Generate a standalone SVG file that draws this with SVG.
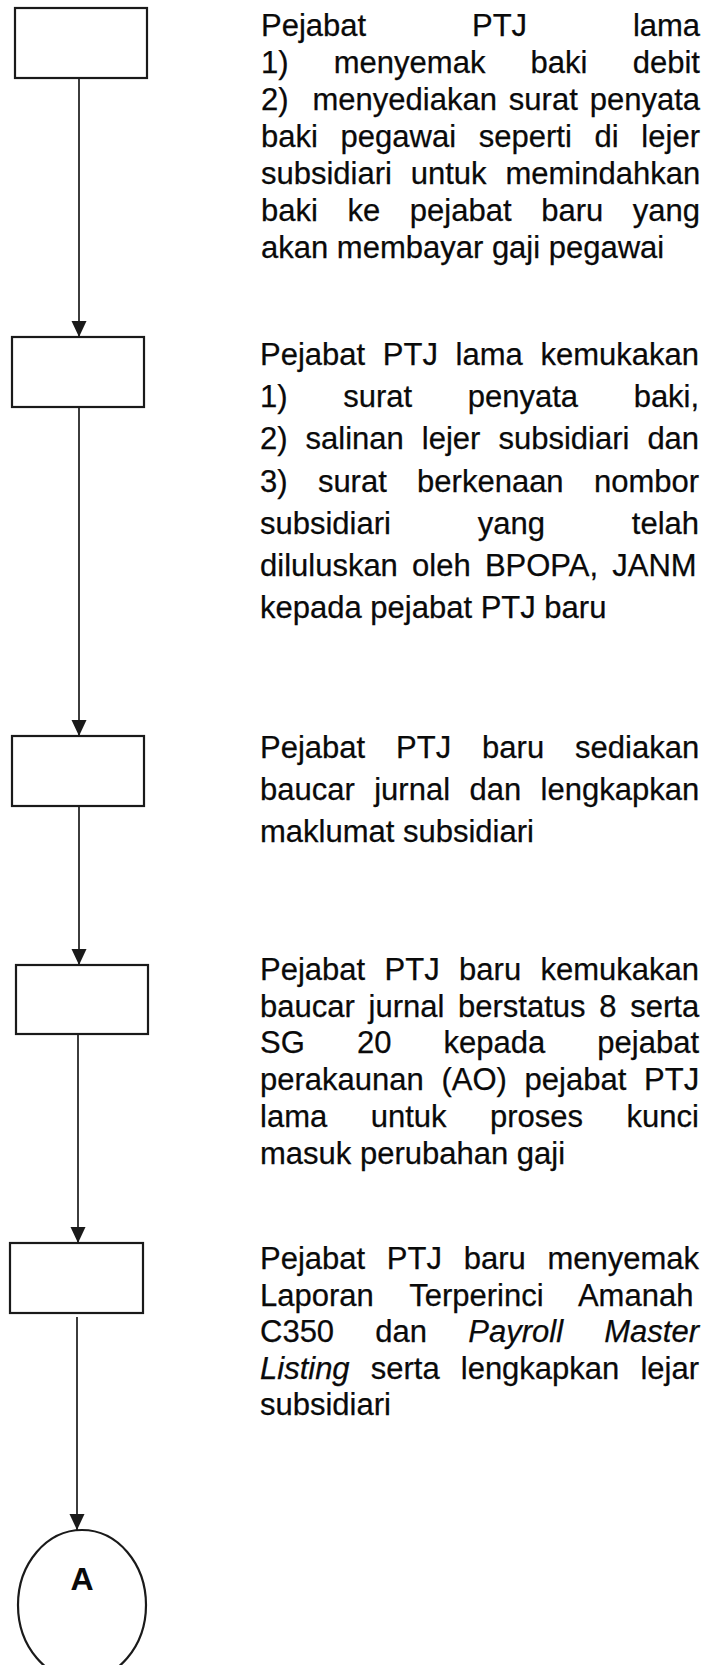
<svg xmlns="http://www.w3.org/2000/svg" width="712" height="1665" viewBox="0 0 712 1665">
<style>
.box{fill:#fff;stroke:#1a1a1a;stroke-width:2.2}
.conn{stroke:#1a1a1a;stroke-width:1.7;fill:none}
.t{font-family:"Liberation Sans",Arial,sans-serif;font-size:31px;fill:#0a0a0a;stroke:#0a0a0a;stroke-width:0.25}
.a{font-family:"Liberation Sans",Arial,sans-serif;font-size:32px;font-weight:bold;fill:#0a0a0a}
</style>
<defs>
<marker id="arr" markerUnits="userSpaceOnUse" markerWidth="17" markerHeight="17" refX="16" refY="7.5" orient="auto">
<path d="M0,0 L16,7.5 L0,15 z" fill="#1a1a1a"/>
</marker>
</defs>
<rect width="712" height="1665" fill="#fff"/>
<g id="connectors">
<line class="conn" x1="79" y1="78" x2="79" y2="337" marker-end="url(#arr)"/>
<line class="conn" x1="79" y1="407" x2="79" y2="736" marker-end="url(#arr)"/>
<line class="conn" x1="79" y1="806" x2="79" y2="965" marker-end="url(#arr)"/>
<line class="conn" x1="78" y1="1034" x2="78" y2="1243" marker-end="url(#arr)"/>
<line class="conn" x1="77" y1="1317" x2="77" y2="1530" marker-end="url(#arr)"/>
</g>
<g id="node1">
<rect class="box" x="15" y="8" width="132" height="70"/>
<text class="t" x="261" y="36" word-spacing="97.2">Pejabat PTJ lama</text>
<text class="t" x="261" y="73" word-spacing="36.6">1) menyemak baki debit</text>
<text class="t" x="261" y="110" word-spacing="3.35" xml:space="preserve">2)  menyediakan surat penyata</text>
<text class="t" x="261" y="147" word-spacing="14.1">baki pegawai seperti di lejer</text>
<text class="t" x="261" y="184" word-spacing="10.2">subsidiari untuk memindahkan</text>
<text class="t" x="261" y="221" word-spacing="21">baki ke pejabat baru yang</text>
<text class="t" x="261" y="258">akan membayar gaji pegawai</text>
</g>
<g id="node2">
<rect class="box" x="12" y="337" width="132" height="70"/>
<text class="t" x="260" y="365" word-spacing="9.07">Pejabat PTJ lama kemukakan</text>
<text class="t" x="260" y="407.2" word-spacing="47">1) surat penyata baki,</text>
<text class="t" x="260" y="449.4" word-spacing="9.4">2) salinan lejer subsidiari dan</text>
<text class="t" x="260" y="491.6" word-spacing="21.7">3) surat berkenaan nombor</text>
<text class="t" x="260" y="533.8" word-spacing="78.2">subsidiari yang telah</text>
<text class="t" x="260" y="576" word-spacing="5.6">diluluskan oleh BPOPA, JANM</text>
<text class="t" x="260" y="618.2">kepada pejabat PTJ baru</text>
</g>
<g id="node3">
<rect class="box" x="12" y="736" width="132" height="70"/>
<text class="t" x="260" y="758" word-spacing="22.3">Pejabat PTJ baru sediakan</text>
<text class="t" x="260" y="800" word-spacing="10.8">baucar jurnal dan lengkapkan</text>
<text class="t" x="260" y="842">maklumat subsidiari</text>
</g>
<g id="node4">
<rect class="box" x="16" y="965" width="132" height="69"/>
<text class="t" x="260" y="980" word-spacing="10.8">Pejabat PTJ baru kemukakan</text>
<text class="t" x="260" y="1016.7" word-spacing="5.1">baucar jurnal berstatus 8 serta</text>
<text class="t" x="260" y="1053.4" word-spacing="43.5">SG 20 kepada pejabat</text>
<text class="t" x="260" y="1090.1" word-spacing="9.1">perakaunan (AO) pejabat PTJ</text>
<text class="t" x="260" y="1126.8" word-spacing="34.9">lama untuk proses kunci</text>
<text class="t" x="260" y="1163.5">masuk perubahan gaji</text>
</g>
<g id="node5">
<rect class="box" x="10" y="1243" width="133" height="70"/>
<text class="t" x="260" y="1269" word-spacing="13.1">Pejabat PTJ baru menyemak</text>
<text class="t" x="260" y="1305.5" word-spacing="27.4">Laporan Terperinci Amanah</text>
<text class="t" x="260" y="1342" word-spacing="32.6">C350 dan <tspan font-style="italic">Payroll Master</tspan></text>
<text class="t" x="260" y="1378.5" word-spacing="12.5"><tspan font-style="italic">Listing</tspan> serta lengkapkan lejar</text>
<text class="t" x="260" y="1415">subsidiari</text>
</g>
<g id="nodeA">
<ellipse class="box" cx="82" cy="1605" rx="64" ry="75"/>
<text class="a" x="82" y="1590" text-anchor="middle">A</text>
</g>
</svg>
